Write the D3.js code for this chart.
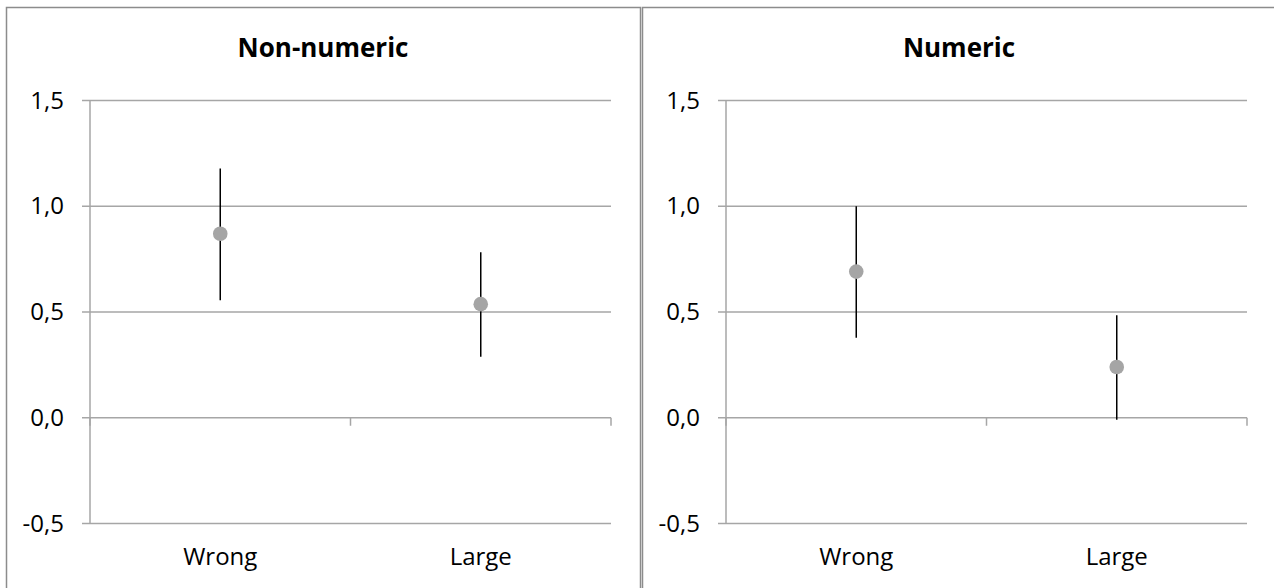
<!DOCTYPE html>
<html>
<head>
<meta charset="utf-8">
<script src="https://cdn.jsdelivr.net/npm/d3@7"></script>
<style>
  html, body { margin: 0; padding: 0; background: #fff; }
  svg { display: block; }
  text { font-family: "Open Sans", sans-serif; fill: #000; }
</style>
</head>
<body>
<div id="chart"></div>
<script>
// data
var categories = ["Wrong", "Large"];
var panelTitles = ["Non-numeric", "Numeric"];
var yTicks = [-0.5, 0, 0.5, 1.0, 1.5];

var nonNumericMean = [0.87, 0.537];
var nonNumericLow = [0.556, 0.288];
var nonNumericHigh = [1.179, 0.782];

var numericMean = [0.691, 0.240];
var numericLow = [0.378, -0.01];
var numericHigh = [1.0, 0.485];

var width = 1274, height = 588;

var svg = d3.select("#chart").append("svg")
  .attr("width", width)
  .attr("height", height);

var locale = d3.formatLocale({ decimal: ",", thousands: ".", grouping: [3], currency: ["", ""], minus: "-" });
var fmt = locale.format(".1f");

var gridColor = "#a6a6a6";

function drawPanel(left, title, mean, low, high) {
  var g = svg.append("g").attr("transform", "translate(" + left + ",0)");

  // panel frame
  g.append("rect")
    .attr("x", 0.5)
    .attr("y", 7.5)
    .attr("width", 634)
    .attr("height", 600)
    .style("fill", "none")
    .style("stroke", "#8c8c8c")
    .style("stroke-width", 1.5);

  var x = d3.scaleBand().domain(categories).range([84, 605]);
  var y = d3.scaleLinear().domain([-0.5, 1.5]).range([523.5, 100.5]);

  // gridlines
  g.selectAll(".grid")
    .data(yTicks.filter(function (d) { return d !== 0; }))
  .enter().append("line")
    .attr("x1", 76)
    .attr("x2", 605)
    .attr("y1", function (d) { return y(d); })
    .attr("y2", function (d) { return y(d); })
    .style("stroke", gridColor)
    .style("stroke-width", 1.5);

  // value axis
  g.append("line")
    .attr("x1", 84).attr("x2", 84)
    .attr("y1", y(1.5)).attr("y2", y(-0.5))
    .style("stroke", gridColor)
    .style("stroke-width", 1.5);

  // category axis at zero
  g.append("line")
    .attr("x1", 76).attr("x2", 605)
    .attr("y1", y(0)).attr("y2", y(0))
    .style("stroke", gridColor)
    .style("stroke-width", 1.5);

  var catTicks = [x.range()[0], x.range()[0] + x.bandwidth(), x.range()[1]];
  g.selectAll(".ctick")
    .data(catTicks)
  .enter().append("line")
    .attr("x1", function (d) { return d; })
    .attr("x2", function (d) { return d; })
    .attr("y1", y(0))
    .attr("y2", y(0) + 8)
    .style("stroke", gridColor)
    .style("stroke-width", 1.5);

  g.selectAll(".ylab")
    .data(yTicks)
  .enter().append("text")
    .attr("x", 58)
    .attr("y", function (d) { return y(d); })
    .attr("dy", "0.34em")
    .style("text-anchor", "end")
    .style("font-size", "24px")
    .text(function (d) { return fmt(d); });

  g.selectAll(".xlab")
    .data(categories)
  .enter().append("text")
    .attr("x", function (d) { return x(d) + x.bandwidth() / 2; })
    .attr("y", 565)
    .style("text-anchor", "middle")
    .style("font-size", "24px")
    .text(function (d) { return d; });

  g.append("text")
    .attr("x", 317)
    .attr("y", 57)
    .style("text-anchor", "middle")
    .style("font-size", "26px")
    .style("font-weight", "bold")
    .text(title);

  // error bars
  g.selectAll(".err")
    .data(categories)
  .enter().append("line")
    .attr("x1", function (d) { return x(d) + x.bandwidth() / 2; })
    .attr("x2", function (d) { return x(d) + x.bandwidth() / 2; })
    .attr("y1", function (d, i) { return y(high[i]); })
    .attr("y2", function (d, i) { return y(low[i]); })
    .style("stroke", "#000")
    .style("stroke-width", 1.5);

  g.selectAll(".dot")
    .data(categories)
  .enter().append("circle")
    .attr("cx", function (d) { return x(d) + x.bandwidth() / 2; })
    .attr("cy", function (d, i) { return y(mean[i]); })
    .attr("r", 7.3)
    .style("fill", "#a5a5a5");
}

drawPanel(6, panelTitles[0], nonNumericMean, nonNumericLow, nonNumericHigh);
drawPanel(642, panelTitles[1], numericMean, numericLow, numericHigh);
</script>
</body>
</html>
